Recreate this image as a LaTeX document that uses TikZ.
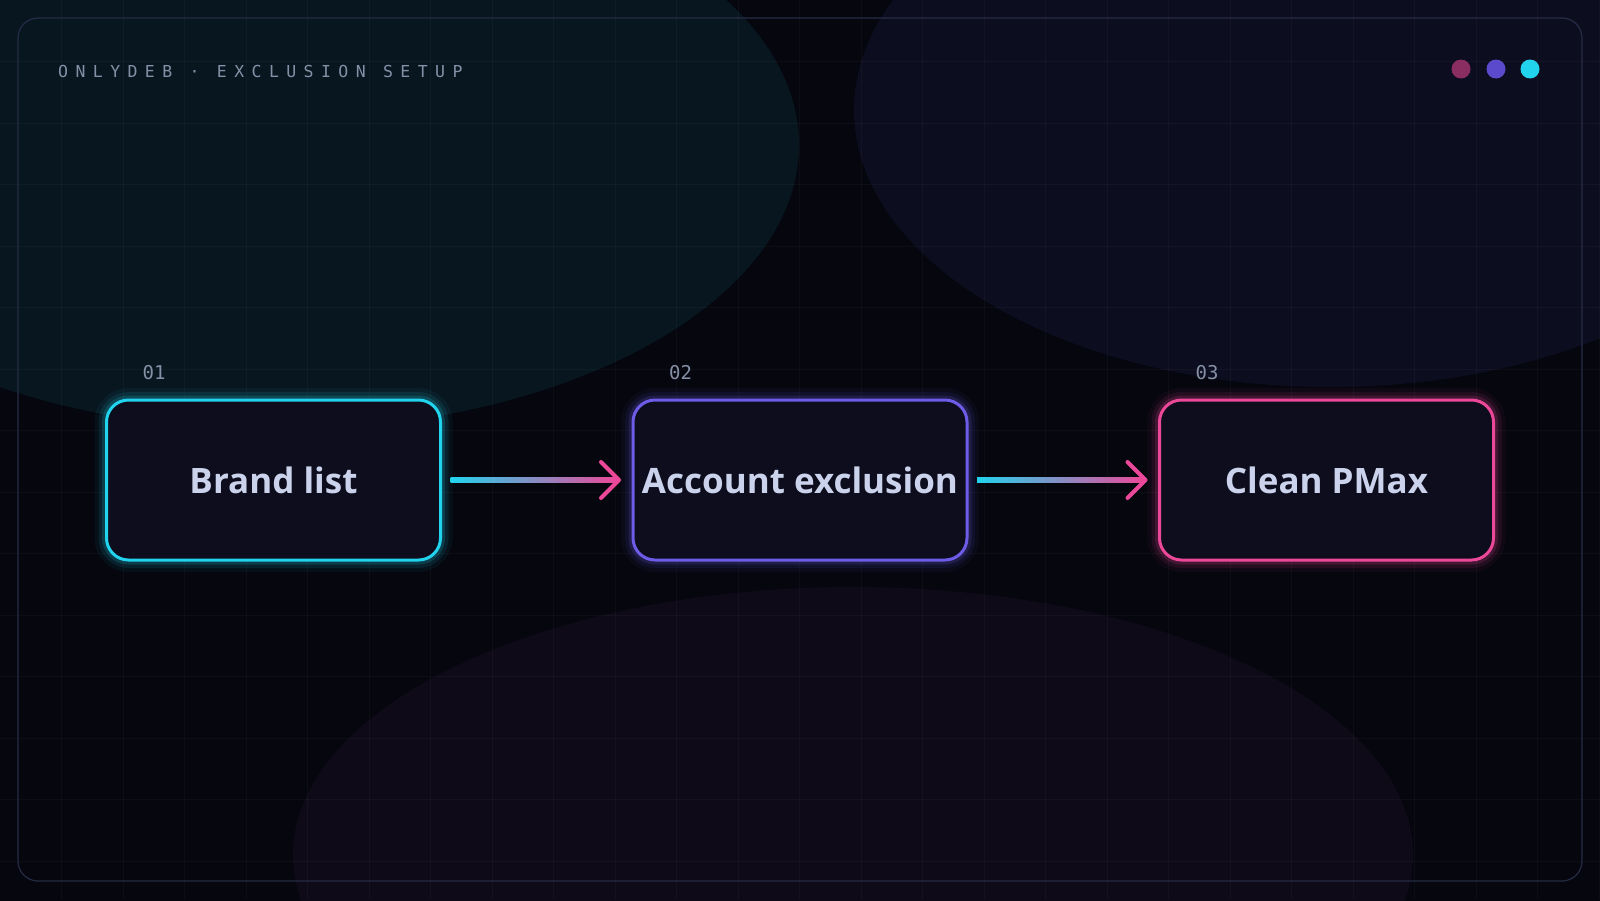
\documentclass[tikz,border=0pt]{standalone}
\usepackage{fontspec}
\setmainfont{Open Sans}
\newfontfamily\capsmono[LetterSpace=45]{DejaVu Sans Mono}
\newfontfamily\nummono{DejaVu Sans Mono}
\usepackage{tikz}
\usetikzlibrary{calc,positioning}
\definecolor{bg}{HTML}{05060E}
\definecolor{blobteal}{HTML}{081620}
\definecolor{blobviolet}{HTML}{0D0D20}
\definecolor{blobrose}{HTML}{0F0A17}
\definecolor{frame}{HTML}{262B45}
\definecolor{muted}{HTML}{8590A6}
\definecolor{boxfill}{HTML}{0D0D1D}
\definecolor{label}{HTML}{CBD3EC}
\definecolor{cyan}{HTML}{22D3EE}
\definecolor{violet}{HTML}{6D5CE8}
\definecolor{pink}{HTML}{EC4899}
\definecolor{midviolet}{HTML}{8B5CF6}
\definecolor{dotrose}{HTML}{8A2D60}
\definecolor{dotviolet}{HTML}{5B4ACB}
\tikzset{
  gridline/.style={draw=white, opacity=0.03, line width=1pt},
  stepbox/.style={draw=#1, line width=3pt, rounded corners=22pt,
    minimum width=334pt, minimum height=160pt, inner sep=0pt, outer sep=0pt,
    fill=boxfill, text=label, font=\bfseries\fontsize{35}{40}\selectfont,
    preaction={draw=#1, line width=24pt, opacity=0.05},
    preaction={draw=#1, line width=16pt, opacity=0.09},
    preaction={draw=#1, line width=9pt, opacity=0.16}},
  numlab/.style={text=muted, font=\nummono\fontsize{19}{22}\selectfont, inner sep=0pt},
  head/.style={draw=pink, line width=4pt, line cap=round, line join=round},
  flow/.style={left color=cyan, middle color=midviolet, right color=pink},
}
\begin{document}
\begin{tikzpicture}[x=1pt,y=-1pt]
  \useasboundingbox (0,0) rectangle (1600,900);
  \clip (-4,-4) rectangle (1604,904);
  % backdrop
  \fill[bg] (-4,-4) rectangle (1604,904);
  \fill[blobteal] (276,145) ellipse [x radius=523pt, y radius=285pt];
  \fill[blobviolet] (1330,110) ellipse [x radius=476pt, y radius=277pt];
  \fill[blobrose] (853,855) ellipse [x radius=560pt, y radius=268pt];
  \foreach \i in {1,...,26} \draw[gridline] (\i*61.5,0) -- (\i*61.5,900);
  \foreach \j in {1,...,14} \draw[gridline] (0,\j*61.5) -- (1600,\j*61.5);
  \draw[frame, line width=1.2pt, rounded corners=20pt] (18,18) rectangle (1582,881);
  % header
  \node[anchor=base west, text=muted, inner sep=0pt,
    font=\capsmono\fontsize{16.5}{18}\selectfont] (title) at (58,77)
    {ONLYDEB · EXCLUSION SETUP};
  \fill[dotrose] (1461,69) circle (9.5pt);
  \fill[dotviolet] (1496,69) circle (9.5pt);
  \fill[cyan] (1530,69) circle (9.5pt);
  % steps
  \node[stepbox=cyan] (brand) at (273.5,480) {Brand list};
  \node[stepbox=violet, right=192.5pt of brand] (account) {Account exclusion};
  \node[stepbox=pink, right=192.5pt of account] (pmax) {Clean PMax};
  \node[numlab, anchor=base west] (n1) at ($(brand.north west)+(36,-21)$) {01};
  \node[numlab, anchor=base west] (n2) at ($(account.north west)+(36,-21)$) {02};
  \node[numlab, anchor=base west] (n3) at ($(pmax.north west)+(36,-21)$) {03};
  % connectors
  \shade[flow] ($(brand.east)+(10,-2.25)$) rectangle ($(account.west)+(-16,2.25)$);
  \draw[head] ($(account.west)+(-32,-18)$) -- ($(account.west)+(-14,0)$) -- ($(account.west)+(-32,18)$);
  \shade[flow] ($(account.east)+(10,-2.25)$) rectangle ($(pmax.west)+(-16,2.25)$);
  \draw[head] ($(pmax.west)+(-32,-18)$) -- ($(pmax.west)+(-14,0)$) -- ($(pmax.west)+(-32,18)$);
\end{tikzpicture}
\end{document}
